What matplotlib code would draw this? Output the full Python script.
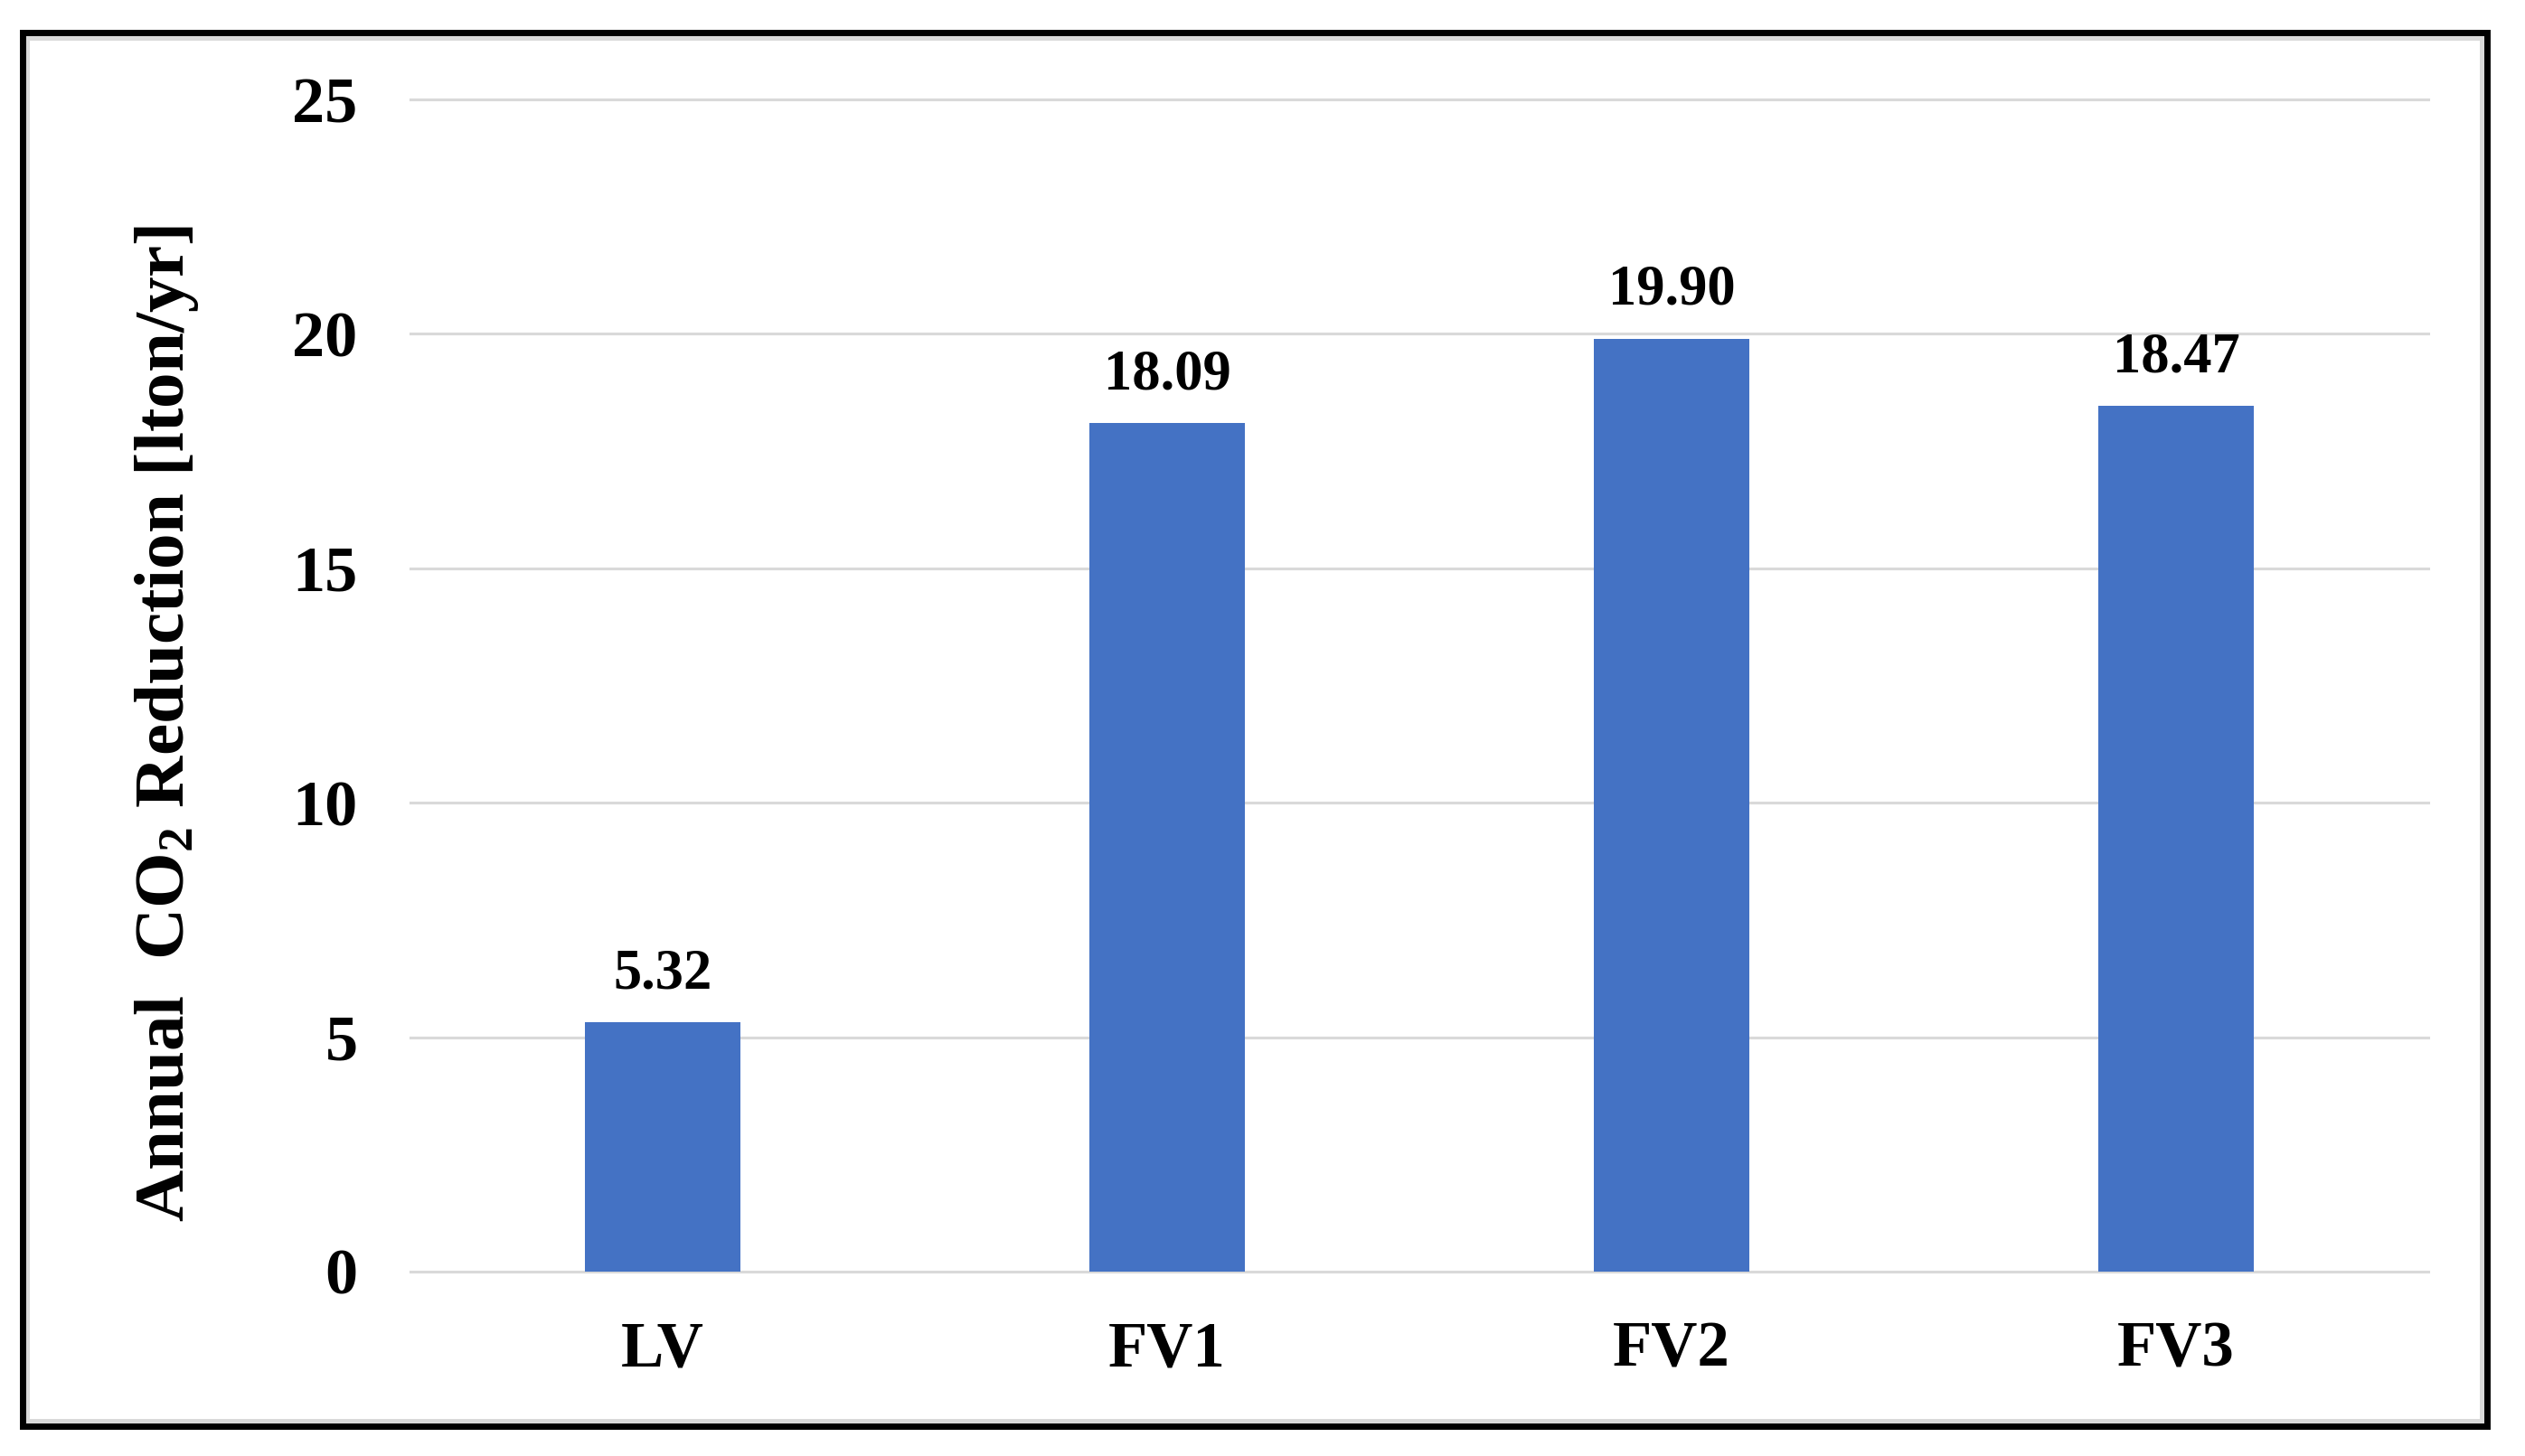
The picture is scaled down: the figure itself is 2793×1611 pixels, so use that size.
import matplotlib
matplotlib.use("Agg")
import matplotlib.pyplot as plt
from matplotlib.patches import Rectangle

categories = ["LV", "FV1", "FV2", "FV3"]
values = [5.32, 18.09, 19.90, 18.47]
value_labels = ["5.32", "18.09", "19.90", "18.47"]
yticks = [0, 5, 10, 15, 20, 25]

plt.rcParams['font.family'] = ['Liberation Serif', 'DejaVu Serif']
plt.rcParams['font.weight'] = 'bold'
plt.rcParams['mathtext.fontset'] = 'custom'
plt.rcParams['mathtext.rm'] = 'Liberation Serif:bold'
plt.rcParams['mathtext.bf'] = 'Liberation Serif:bold'
plt.rcParams['mathtext.it'] = 'Liberation Serif:bold'
plt.rcParams['mathtext.default'] = 'rm'

W, H = 2793, 1611
dpi = 100
fig = plt.figure(figsize=(W / dpi, H / dpi), dpi=dpi)
fig.patch.set_facecolor('white')

ax = fig.add_axes([454 / W, 1 - 1407 / H, (2686 - 454) / W, (1407 - 110) / H])
x = list(range(len(categories)))
ax.bar(x, values, width=0.31, color='#4472C4', zorder=3)
ax.set_xlim(-0.5, len(categories) - 0.5)
ax.set_ylim(0, 25)
ax.set_yticks(yticks)
ax.set_yticklabels([str(t) for t in yticks])
ax.set_xticks(x)
ax.set_xticklabels(categories)
for s in ax.spines.values():
    s.set_visible(False)
ax.tick_params(axis='both', length=0)
ax.tick_params(axis='y', pad=42, labelsize=52)
ax.tick_params(axis='x', pad=39, labelsize=51)
ax.yaxis.grid(True, color='#D9D9D9', linewidth=2.2, zorder=0)
ax.set_axisbelow(True)
for gl in ax.get_ygridlines():
    gl.set_clip_on(False)

for xi, v, lab in zip(x, values, value_labels):
    ax.annotate(lab, (xi, v), xytext=(0, 17), textcoords='offset points',
                ha='center', va='bottom', fontsize=45, fontweight='bold')

fig.text(185 / W, 1 - 800 / H, r'Annual  CO$_2$ Reduction [lton/yr]',
         rotation=90, ha='center', va='center', fontsize=57, fontweight='bold')

# Frame: grey inner line and black outer line
fig.patches.append(Rectangle((29.5 / W, 1 - 1572 / H), (2745 - 29.5) / W, (1572 - 42) / H,
                             transform=fig.transFigure, fill=False,
                             edgecolor='#D9D9D9', linewidth=3.6, zorder=5))
fig.patches.append(Rectangle((24.5 / W, 1 - 1577.5 / H), (2751 - 24.5) / W, (1577.5 - 36) / H,
                             transform=fig.transFigure, fill=False,
                             edgecolor='black', linewidth=5.0, zorder=6))

fig.savefig('out.png', dpi=dpi, facecolor='white')
